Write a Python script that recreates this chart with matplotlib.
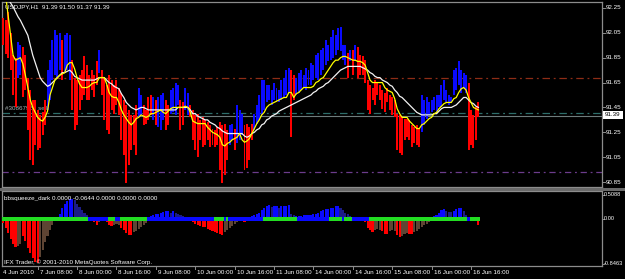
import matplotlib
matplotlib.use("Agg")
import matplotlib.pyplot as plt
from matplotlib.patches import Rectangle
from matplotlib.lines import Line2D
import numpy as np

# ---------------- data ----------------
bar_high = [92.17, 92.15, 92.22, 92.05, 91.87, 91.85, 91.98, 91.95, 91.94, 91.87,
            91.69, 91.59, 91.51, 91.51, 91.43, 91.39, 91.41, 91.51, 91.75, 91.83,
            91.99, 92.07, 92.03, 92.05, 91.99, 92.03, 92.05, 92.03, 91.83, 91.69,
            91.67, 91.71, 91.75, 91.86, 91.79, 91.71, 91.75, 91.71, 91.82, 91.91,
            91.75, 91.69, 91.63, 91.71, 91.67, 91.63, 91.67, 91.61, 91.57, 91.51,
            91.47, 91.43, 91.39, 91.39, 91.47, 91.61, 91.55, 91.47, 91.43, 91.53,
            91.55, 91.53, 91.51, 91.53, 91.55, 91.57, 91.51, 91.47, 91.59, 91.61,
            91.65, 91.63, 91.51, 91.49, 91.61, 91.57, 91.47, 91.43, 91.39, 91.40,
            91.35, 91.37, 91.35, 91.33, 91.31, 91.28, 91.27, 91.29, 91.33, 91.31,
            91.32, 91.27, 91.31, 91.32, 91.28, 91.47, 91.43, 91.40, 91.31, 91.32,
            91.29, 91.32, 91.40, 91.47, 91.55, 91.67, 91.67, 91.63, 91.63, 91.59,
            91.65, 91.61, 91.59, 91.67, 91.69, 91.75, 91.77, 91.75, 91.71, 91.69,
            91.73, 91.75, 91.71, 91.77, 91.75, 91.81, 91.79, 91.87, 91.89, 91.91,
            91.93, 91.99, 91.95, 92.02, 92.07, 92.03, 92.09, 92.10, 91.95, 91.95,
            91.89, 91.91, 91.91, 91.95, 91.94, 91.87, 91.86, 91.83, 91.67, 91.63,
            91.61, 91.67, 91.65, 91.63, 91.59, 91.57, 91.61, 91.55, 91.53, 91.51,
            91.40, 91.39, 91.37, 91.36, 91.36, 91.35, 91.31, 91.29, 91.31, 91.28,
            91.55, 91.51, 91.53, 91.49, 91.51, 91.53, 91.55, 91.55, 91.63, 91.67,
            91.59, 91.55, 91.53, 91.75, 91.77, 91.82, 91.75, 91.73, 91.71, 91.65,
            91.43, 91.39, 91.45, 91.49]
bar_low = [91.95, 91.88, 91.85, 91.75, 91.55, 91.45, 91.69, 91.71, 91.53, 91.59,
           91.27, 91.03, 90.99, 91.15, 91.11, 91.12, 91.23, 91.31, 91.43, 91.51,
           91.67, 91.71, 91.69, 91.75, 91.67, 91.73, 91.75, 91.67, 91.43, 91.27,
           91.31, 91.43, 91.51, 91.55, 91.51, 91.51, 91.59, 91.53, 91.63, 91.73,
           91.55, 91.35, 91.27, 91.24, 91.43, 91.40, 91.47, 91.39, 91.19, 91.07,
           90.84, 90.99, 91.11, 91.15, 91.07, 91.37, 91.39, 91.31, 91.32, 91.35,
           91.39, 91.35, 91.31, 91.29, 91.27, 91.35, 91.27, 91.31, 91.40, 91.41,
           91.39, 91.47, 91.27, 91.31, 91.43, 91.39, 91.37, 91.19, 91.11, 91.05,
           91.19, 91.13, 91.15, 91.19, 91.13, 91.15, 91.13, 91.15, 90.95, 90.84,
           90.91, 91.03, 91.15, 91.19, 91.11, 91.16, 91.19, 91.23, 90.95, 90.96,
           91.03, 91.19, 91.27, 91.32, 91.35, 91.39, 91.43, 91.49, 91.51, 91.47,
           91.51, 91.49, 91.49, 91.51, 91.53, 91.55, 91.57, 91.21, 91.51, 91.55,
           91.57, 91.59, 91.61, 91.59, 91.63, 91.63, 91.67, 91.69, 91.67, 91.71,
           91.75, 91.79, 91.82, 91.83, 91.85, 91.87, 91.91, 91.90, 91.83, 91.79,
           91.69, 91.82, 91.71, 91.82, 91.69, 91.71, 91.71, 91.65, 91.43, 91.40,
           91.51, 91.47, 91.55, 91.51, 91.44, 91.41, 91.49, 91.43, 91.39, 91.37,
           91.11, 91.08, 91.07, 91.19, 91.21, 91.19, 91.13, 91.16, 91.15, 91.13,
           91.25, 91.31, 91.36, 91.39, 91.41, 91.43, 91.41, 91.45, 91.45, 91.51,
           91.49, 91.47, 91.49, 91.55, 91.59, 91.63, 91.57, 91.61, 91.57, 91.11,
           91.15, 91.12, 91.19, 91.37]
bar_color = ("RRRRRRBBRR" "RRRRRRRRBB" "BBBBRBBBRR" "RRRRRRRRRB" "RRRRRRRRRR"
             "RRRRRBBRRR" "RBRBBBRRBB" "BBRRBBRRRR" "RRRRRRRRRR" "RRBBRBBBRR"
             "RRBBBBBBBB" "BBBBBBBRRB" "BBBBBBBBBB" "BBBBBBBBBB" "RBRBRRRRRR"
             "RRRRRRRRRR" "RRRRRRRRRR" "BBBBBBBBBB" "BBBBBBBBBR" "RRRR")
ma_fast = [92.47, 92.35, 92.19, 92.03, 91.87, 91.83, 91.84, 91.85, 91.80, 91.71,
           91.61, 91.51, 91.45, 91.41, 91.37, 91.35, 91.34, 91.37, 91.42, 91.55,
           91.61, 91.67, 91.69, 91.71, 91.72, 91.73, 91.79, 91.81, 91.81, 91.76,
           91.69, 91.64, 91.61, 91.61, 91.61, 91.62, 91.64, 91.65, 91.65, 91.69,
           91.69, 91.69, 91.64, 91.57, 91.54, 91.53, 91.53, 91.49, 91.43, 91.39,
           91.36, 91.33, 91.31, 91.33, 91.36, 91.37, 91.39, 91.38, 91.37, 91.38,
           91.40, 91.40, 91.41, 91.42, 91.43, 91.41, 91.40, 91.42, 91.44, 91.45,
           91.45, 91.45, 91.45, 91.45, 91.46, 91.45, 91.41, 91.34, 91.33, 91.32,
           91.32, 91.32, 91.32, 91.29, 91.27, 91.25, 91.24, 91.23, 91.21, 91.15,
           91.14, 91.16, 91.17, 91.19, 91.20, 91.21, 91.24, 91.19, 91.17, 91.18,
           91.20, 91.24, 91.28, 91.32, 91.35, 91.39, 91.41, 91.45, 91.47, 91.48,
           91.49, 91.50, 91.51, 91.52, 91.53, 91.53, 91.57, 91.57, 91.53, 91.56,
           91.57, 91.59, 91.61, 91.61, 91.61, 91.61, 91.62, 91.65, 91.66, 91.68,
           91.69, 91.72, 91.75, 91.78, 91.81, 91.83, 91.83, 91.85, 91.86, 91.86,
           91.85, 91.84, 91.83, 91.83, 91.82, 91.82, 91.81, 91.79, 91.73, 91.67,
           91.65, 91.65, 91.65, 91.65, 91.65, 91.61, 91.59, 91.58, 91.57, 91.52,
           91.44, 91.40, 91.37, 91.37, 91.37, 91.34, 91.32, 91.30, 91.28, 91.28,
           91.31, 91.32, 91.34, 91.36, 91.37, 91.40, 91.41, 91.44, 91.46, 91.48,
           91.49, 91.49, 91.49, 91.52, 91.53, 91.57, 91.60, 91.61, 91.59, 91.53,
           91.49, 91.45, 91.44, 91.43]
ma_slow = [92.43, 92.38, 92.33, 92.29, 92.26, 92.22, 92.18, 92.15, 92.11, 92.07,
           92.03, 91.95, 91.87, 91.81, 91.75, 91.69, 91.66, 91.64, 91.62, 91.63,
           91.65, 91.67, 91.69, 91.71, 91.73, 91.73, 91.74, 91.75, 91.73, 91.70,
           91.69, 91.68, 91.67, 91.67, 91.67, 91.67, 91.67, 91.67, 91.68, 91.69,
           91.69, 91.69, 91.67, 91.65, 91.64, 91.62, 91.61, 91.60, 91.56, 91.53,
           91.49, 91.47, 91.45, 91.44, 91.43, 91.44, 91.45, 91.45, 91.44, 91.43,
           91.43, 91.43, 91.43, 91.43, 91.43, 91.43, 91.43, 91.43, 91.43, 91.43,
           91.43, 91.45, 91.45, 91.45, 91.45, 91.45, 91.43, 91.40, 91.40, 91.38,
           91.37, 91.36, 91.35, 91.35, 91.33, 91.32, 91.31, 91.29, 91.28, 91.26,
           91.25, 91.24, 91.24, 91.24, 91.24, 91.24, 91.24, 91.24, 91.22, 91.21,
           91.22, 91.24, 91.25, 91.27, 91.28, 91.31, 91.32, 91.35, 91.36, 91.38,
           91.39, 91.40, 91.42, 91.43, 91.44, 91.45, 91.46, 91.47, 91.48, 91.49,
           91.50, 91.51, 91.52, 91.53, 91.54, 91.55, 91.57, 91.58, 91.60, 91.61,
           91.62, 91.64, 91.65, 91.67, 91.69, 91.71, 91.73, 91.75, 91.76, 91.77,
           91.78, 91.78, 91.78, 91.78, 91.78, 91.78, 91.77, 91.76, 91.75, 91.73,
           91.72, 91.70, 91.69, 91.69, 91.67, 91.66, 91.65, 91.63, 91.62, 91.59,
           91.57, 91.54, 91.53, 91.51, 91.49, 91.47, 91.45, 91.43, 91.41, 91.40,
           91.39, 91.39, 91.39, 91.39, 91.39, 91.40, 91.40, 91.42, 91.44, 91.45,
           91.45, 91.45, 91.45, 91.46, 91.47, 91.49, 91.51, 91.53, 91.53, 91.51,
           91.49, 91.48, 91.46, 91.45]
sq_value = [-0.07, -0.16, -0.25, -0.36, -0.45, -0.51, -0.48, -0.44, -0.30, -0.40,
            -0.52, -0.62, -0.70, -0.77, -0.80, -0.68, -0.55, -0.42, -0.30, -0.20,
            -0.10, -0.04, 0.04, 0.10, 0.20, 0.27, 0.33, 0.36, 0.37, 0.34,
            0.28, 0.22, 0.17, 0.12, 0.07, 0.03, 0.02, -0.06, -0.10, -0.06,
            -0.02, 0.01, -0.06, -0.10, -0.13, -0.11, -0.08, -0.10, -0.16, -0.20,
            -0.25, -0.29, -0.28, -0.24, -0.21, -0.18, -0.14, -0.10, -0.07, 0.03,
            0.05, 0.07, 0.09, 0.10, 0.12, 0.13, 0.14, 0.14, 0.12, 0.14,
            0.11, 0.09, 0.07, 0.05, 0.03, 0.02, 0.01, -0.06, -0.08, -0.10,
            -0.12, -0.14, -0.15, -0.17, -0.19, -0.21, -0.23, -0.25, -0.27, -0.28,
            -0.24, -0.20, -0.16, -0.12, -0.08, -0.05, 0.01, -0.04, -0.05, 0.01,
            0.03, 0.05, 0.07, 0.09, 0.12, 0.17, 0.20, 0.24, 0.25, 0.22,
            0.24, 0.24, 0.21, 0.23, 0.24, 0.24, 0.25, 0.10, 0.07, 0.05,
            0.06, 0.06, 0.07, 0.07, 0.07, 0.08, 0.09, 0.10, 0.12, 0.14,
            0.16, 0.18, 0.19, 0.20, 0.21, 0.23, 0.24, 0.20, 0.16, 0.12,
            0.09, 0.06, 0.03, 0.02, 0.02, 0.01, -0.02, -0.06, -0.16, -0.19,
            -0.23, -0.20, -0.18, -0.19, -0.22, -0.26, -0.26, -0.22, -0.20, -0.21,
            -0.28, -0.32, -0.30, -0.27, -0.25, -0.26, -0.26, -0.24, -0.21, -0.18,
            -0.14, -0.11, -0.08, -0.05, 0.02, 0.05, 0.08, 0.12, 0.16, 0.19,
            0.15, 0.13, 0.13, 0.15, 0.19, 0.20, 0.20, 0.15, 0.08, 0.03,
            0.01, 0.01, -0.01, -0.10]
sq_color = ("RRRRRRrrRR" "RRRRRrrrrr" "rrBBBBBBBb" "bbbbbBBRRr" "rbRRRrrrRR"
            "RRRrrrrrrB" "BBBBBBBBbB" "bbbbbbBRRR" "RRRRRRRRRR" "rrrrrrBRRb"
            "BBBBBBBBBb" "BBbBBBBbbB" "BBBBBBBBBB" "BBBBBBBbbb" "bbbBBBRRRR"
            "RrrrRRRrrr" "RRrrrRRrrr" "rrrrBBBBBB" "bbbBBBBbbb" "bBrR")
sq_dot_runs = [("g", 35), ("b", 8), ("g", 3), ("b", 2), ("g", 11), ("b", 27),
               ("g", 4), ("b", 1), ("g", 1), ("b", 14), ("g", 14), ("b", 13),
               ("g", 5), ("b", 1), ("g", 3), ("b", 7), ("g", 40), ("b", 1), ("g", 4)]

price_ticks = [92.25, 92.05, 91.85, 91.65, 91.45, 91.25, 91.05, 90.85]
bid_price = 91.39
hlines = [91.684, 91.405, 90.93]
date_ticks = [14, 30, 46, 62, 78, 94, 110, 126, 142, 158, 174, 190]
date_labels = ["7 Jun 08:00", "8 Jun 00:00", "8 Jun 16:00", "9 Jun 08:00",
               "10 Jun 00:00", "10 Jun 16:00", "11 Jun 08:00", "14 Jun 00:00",
               "14 Jun 16:00", "15 Jun 08:00", "16 Jun 00:00", "16 Jun 16:00"]
first_label = "4 Jun 2010"
sq_max, sq_min = 0.5088, -0.8463

# ---------------- styling ----------------
W, H = 625, 279
FONT = ["Liberation Sans", "DejaVu Sans"]
plt.rcParams["font.family"] = FONT
FS = 4.5
GRAY = "#8c8c8c"

def fx(x):
    return x / W

def fy(y):
    return 1 - y / H

fig = plt.figure(figsize=(W / 100, H / 100), dpi=100, facecolor="black")

n = len(bar_high)
idx = np.arange(n)
XL = (-0.49, 243.2)

# main window
ax = fig.add_axes([fx(2), fy(187), fx(602) - fx(2), fy(2) - fy(187)])
ax.set_facecolor("black")
ax.set_xlim(*XL)
ax.set_ylim(90.81, 92.298)
for s in ax.spines.values():
    s.set_color(GRAY)
    s.set_linewidth(0.9)
ax.set_xticks([])
ax.set_yticks([])

cmap_main = {"R": "#ff0000", "B": "#0a0aff"}
hi = np.array(bar_high)
lo = np.array(bar_low)
ax.bar(idx, hi - lo, bottom=lo, width=0.8, color=[cmap_main[c] for c in bar_color],
       linewidth=0, zorder=3)

ax.plot(idx, ma_fast, color="#ffff00", lw=0.9, zorder=5)
ax.plot(idx, ma_slow, color="#f2f2f2", lw=0.9, zorder=4)

hl_styles = [("#8e2c16", (0, (6, 3, 1.5, 3))),
             ("#2e6e6a", (0, (6, 3, 1.5, 3))),
             ("#6c3c8c", (0, (5, 3, 1.5, 3)))]
for val, (col, ls) in zip(hlines, hl_styles):
    ax.axhline(val, color=col, lw=0.9, ls=ls, zorder=2)
ax.axhline(bid_price - 0.005, color="#6e7c7c", lw=0.8, zorder=2)

ax.text(0.005, 0.988, "USDJPY,H1  91.39 91.50 91.37 91.39", transform=ax.transAxes,
        color="white", fontsize=FS, va="top", ha="left", zorder=1)
ax.annotate("#30867953 sell", xy=(0.005, 91.42), xycoords=("axes fraction", "data"),
            color="#a9b4b4", fontsize=FS, va="bottom", ha="left", zorder=1)

# price scale
for p in price_ticks:
    y_px = (92.298 - p) / (92.298 - 90.81) * 185 + 2
    fig.add_artist(Line2D([fx(602), fx(605)], [fy(y_px), fy(y_px)], color=GRAY, lw=0.7))
    fig.text(fx(606), fy(y_px), f"{p:.2f}", color="white", fontsize=FS,
             va="center", ha="left")
yb = (92.298 - bid_price) / (92.298 - 90.81) * 185 + 2
fig.add_artist(Rectangle((fx(603), fy(yb + 4)), fx(20), 8 / H, facecolor="white",
                         edgecolor="none"))
fig.text(fx(605), fy(yb), f"{bid_price:.2f}", color="black", fontsize=FS,
         va="center", ha="left")

# separator
fig.add_artist(Rectangle((fx(0), fy(190.5)), 1, 3 / H, facecolor="#6a6a6a",
                         edgecolor="none"))

# indicator window
ax2 = fig.add_axes([fx(2), fy(266), fx(602) - fx(2), fy(191) - fy(266)])
ax2.set_facecolor("black")
ax2.set_xlim(*XL)
ax2.set_ylim(sq_min, sq_max)
for s in ax2.spines.values():
    s.set_color(GRAY)
    s.set_linewidth(0.9)
ax2.set_xticks([])
ax2.set_yticks([])

cmap_sq = {"R": "#ff0000", "r": "#5e4433", "B": "#0a0aff", "b": "#1c1c86"}
ax2.bar(idx, sq_value, width=0.85, color=[cmap_sq[c] for c in sq_color],
        linewidth=0, zorder=3)
dots = []
for c, k in sq_dot_runs:
    dots += [c] * k
dot_cols = {"g": "#22dd22", "b": "#0a0aff"}
ax2.bar(idx, 0.06, bottom=-0.03, width=1.0, color=[dot_cols[c] for c in dots],
        linewidth=0, zorder=4)

ax2.text(0.004, 0.93, "bbsqueeze_dark 0.0000 -0.0644 0.0000 0.0000 0.0000",
         transform=ax2.transAxes, color="white", fontsize=FS, va="top", ha="left")
ax2.text(0.004, 0.015, "IFX Trader, \u00a9 2001-2010 MetaQuotes Software Corp.",
         transform=ax2.transAxes, color="white", fontsize=FS, va="bottom", ha="left")

for val, ypx in [(sq_max, 195), (0.0, 219), (sq_min, 263.5)]:
    txt = "0.00" if val == 0 else f"{val:.4f}"
    fig.text(fx(604), fy(ypx), txt, color="white", fontsize=4.1, va="center", ha="left")
    fig.add_artist(Line2D([fx(602), fx(604)], [fy(ypx), fy(ypx)], color=GRAY, lw=0.7))

# time scale
ax2.annotate(first_label, xy=(XL[0], 0), xycoords=("data", "axes fraction"),
             xytext=(1, -4), textcoords="offset pixels", color="white",
             fontsize=FS, va="top", ha="left", annotation_clip=False)
for t, lab in zip(date_ticks, date_labels):
    ax2.annotate(lab, xy=(t, 0), xycoords=("data", "axes fraction"),
                 xytext=(2, -4), textcoords="offset pixels", color="white",
                 fontsize=FS, va="top", ha="left", annotation_clip=False)
    ax2.plot([t, t], [0, -0.04], transform=ax2.get_xaxis_transform(),
             color=GRAY, lw=0.7, clip_on=False)

fig.savefig("out.png", dpi=100, facecolor="black")
